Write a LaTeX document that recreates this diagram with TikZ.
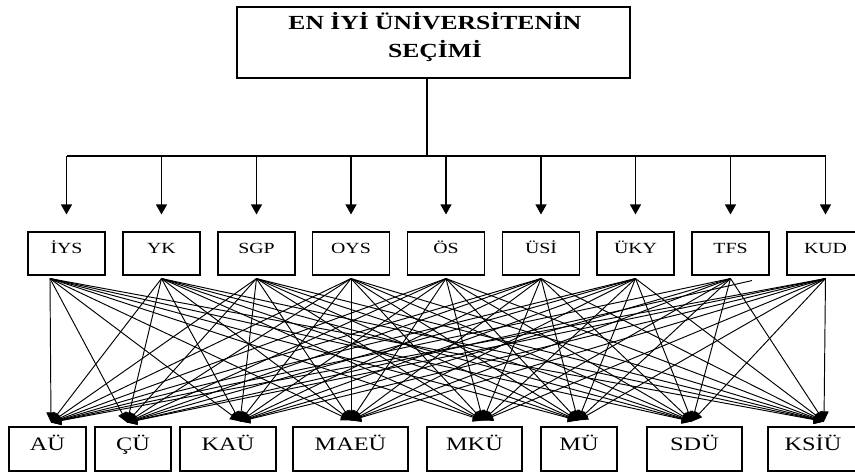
\documentclass[tikz,border=0pt]{standalone}
\usepackage{fontspec}
\setmainfont{Liberation Serif}[FakeStretch=1.28]
\usetikzlibrary{arrows.meta}
\begin{document}
\begin{tikzpicture}[x=1pt,y=-1pt,
  box/.style={draw=black, line width=1.1pt, inner sep=0pt},
  crit/.style={box, minimum width=77pt, minimum height=43pt,
    font=\fontsize{15.5}{18}\selectfont, text height=10pt, text depth=11pt},
  alt/.style={box, minimum height=44pt,
    font=\fontsize{19}{22}\selectfont, text height=12.5pt, text depth=10pt},
  link/.style={line width=0.95pt, -{Triangle[width=9pt,length=10pt]}},
  down/.style={line width=1.1pt, -{Triangle[width=11pt,length=10pt]}},
  plain/.style={line width=1.1pt}]
\useasboundingbox (0,0) rectangle (855,472);
\fill[white] (0,0) rectangle (855,472);

% title
\node[box, minimum width=393pt, minimum height=71pt] (title) at (433.5,42.5) {};
\node[align=center, font=\fontsize{20}{28}\selectfont\bfseries, inner sep=0pt] (titletext) at (435,37)
  {EN İYİ ÜNİVERSİTENİN\\SEÇİMİ};

% criteria
\node[crit] (c1) at (66.5,253.5) {İYS};
\node[crit] (c2) at (161.5,253.5) {YK};
\node[crit] (c3) at (256.5,253.5) {SGP};
\node[crit] (c4) at (351,253.5) {OYS};
\node[crit] (c5) at (446,253.5) {ÖS};
\node[crit] (c6) at (541,253.5) {ÜSİ};
\node[crit] (c7) at (635.5,253.5) {ÜKY};
\node[crit] (c8) at (730.5,253.5) {TFS};
\node[crit] (c9) at (825.5,253.5) {KUD};

% alternatives
\node[alt, minimum width=77pt] (a1) at (47.5,449) {AÜ};
\node[alt, minimum width=76pt] (a2) at (133,449) {ÇÜ};
\node[alt, minimum width=96pt] (a3) at (228,449) {KAÜ};
\node[alt, minimum width=115pt] (a4) at (350.5,449) {MAEÜ};
\node[alt, minimum width=95pt] (a5) at (474.5,449) {MKÜ};
\node[alt, minimum width=76pt] (a6) at (579,449) {MÜ};
\node[alt, minimum width=95pt] (a7) at (694.5,449) {SDÜ};
\node[alt, minimum width=90pt] (a8) at (813,449) {KSİÜ};

% bus
\coordinate (busc) at (427,156);
\draw[plain] (title.south -| busc) -- (busc);
\draw[plain] (c1.north |- busc) -- (c9.north |- busc);
\foreach \i in {1,...,9}{
  \draw[down] (c\i.north |- busc) -- ([yshift=17pt]c\i.north);
}

% source points
\coordinate (s1) at ([xshift=-16.5pt,yshift=-3pt]c1.south);
\foreach \i in {2,...,9}{\coordinate (s\i) at ([yshift=-3pt]c\i.south);}
\coordinate (s8b) at ([xshift=21.5pt,yshift=-5pt]c8.south);

% tip points
\coordinate (t1) at ([xshift=3.5pt,yshift=4pt]a1.north);
\coordinate (t2) at ([xshift=-6pt,yshift=4pt]a2.north);
\coordinate (t3) at ([xshift=12pt,yshift=5pt]a3.north);
\coordinate (t4) at ([xshift=0.5pt,yshift=6pt]a4.north);
\coordinate (t5) at ([xshift=8.5pt,yshift=6pt]a5.north);
\coordinate (t6) at ([xshift=-1pt,yshift=6pt]a6.north);
\coordinate (t7) at ([xshift=-2.5pt,yshift=5pt]a7.north);
\coordinate (t8) at ([xshift=11pt,yshift=5pt]a8.north);

\foreach \i in {1,...,9}{
  \foreach \j in {1,...,8}{
    \ifnum\i\j=82
      \draw[link] (s8b) -- (t\j);
    \else
      \draw[link] (s\i) -- (t\j);
    \fi
  }
}
\end{tikzpicture}
\end{document}
